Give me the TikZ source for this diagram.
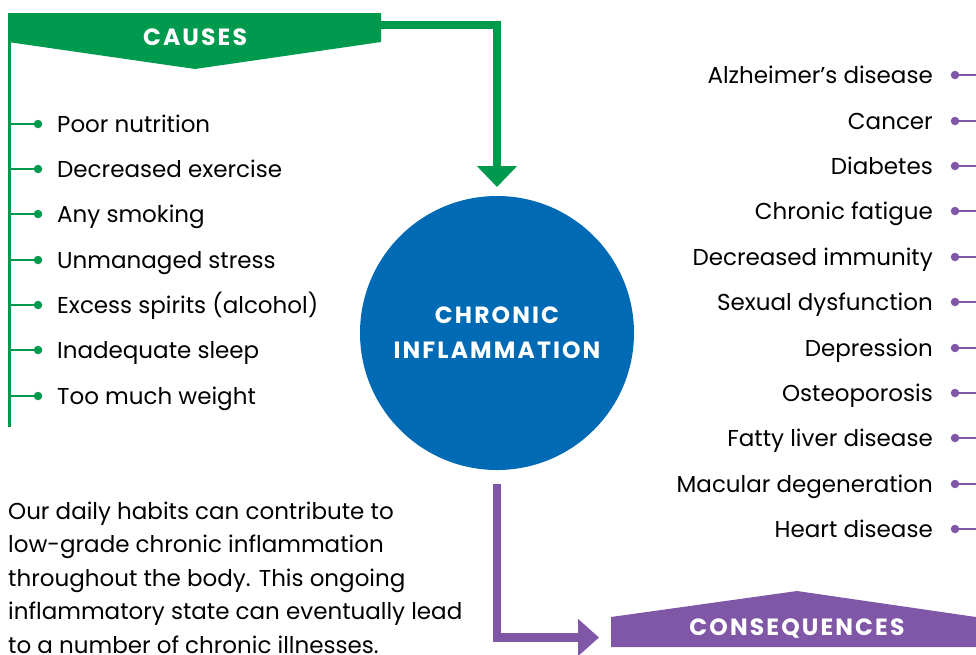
\documentclass[tikz,border=0pt]{standalone}
\usepackage{fontspec}
\setmainfont{Poppins}
\newfontfamily\headfont[LetterSpace=9]{Poppins}
\usetikzlibrary{arrows.meta}
\definecolor{cgreen}{HTML}{009A4E}
\definecolor{cblue}{HTML}{006AB4}
\definecolor{cpurple}{HTML}{7F57A6}
\tikzset{
  x=1pt, y=-1pt,
  body/.style={font=\fontsize{23}{27}\selectfont, text=black, inner sep=0pt},
  head/.style={font=\headfont\fontsize{23.5}{35}\selectfont\bfseries, text=white, inner sep=0pt},
  causeitem/.style={body, anchor=base west},
  conitem/.style={body, anchor=base east},
  gdot/.style={circle, fill=cgreen, inner sep=0pt, minimum size=8.5pt},
  pdot/.style={circle, fill=cpurple, inner sep=0pt, minimum size=8.5pt},
}
\begin{document}
\begin{tikzpicture}
\useasboundingbox (0,0) rectangle (976,654);
% causes banner
\fill[cgreen] (8,13) -- (381,13) -- (381,42) -- (195,69) -- (8,42) -- cycle;
\node[head, anchor=base] (causes) at (195,45) {CAUSES};
\coordinate (cbr) at (381,25);
\coordinate (cbl) at (9.5,40);
\coordinate (cend) at (9.5,427);
% circle
\node[circle, fill=cblue, minimum size=274pt, inner sep=0pt] (circ) at (497,333) {};
\node[head, anchor=base] (circtxt1) at (497,323) {CHRONIC};
\node[head, anchor=base] (circtxt2) at (497,358) {INFLAMMATION};
\coordinate (gtip) at (497,187);
\draw[cgreen, line width=8pt, -{Triangle[width=39pt,length=21pt]}] (cbr) -| (gtip);
% left tree
\draw[cgreen, line width=2.8pt] (cbl) -- (cend);
\foreach \y/\t [count=\i] in {124/Poor nutrition,169/Decreased exercise,214/Any smoking,260/Unmanaged stress,305/Excess spirits (alcohol),350/Inadequate sleep,396/Too much weight}{
  \coordinate (cb\i) at (9.5,\y);
  \node[gdot] (cd\i) at (38,\y) {};
  \draw[cgreen, line width=2.5pt] (cb\i) -- (cd\i);
  \node[causeitem] (ct\i) at (57,\y+8.5) {\t};
}
% consequences
\coordinate (pstart) at (497,484);
\coordinate (ptip) at (599,637.5);
\draw[cpurple, line width=8.5pt, -{Triangle[width=36pt,length=21pt]}] (pstart) |- (ptip);
\fill[cpurple] (611,617) -- (797,591) -- (976,617) -- (976,647) -- (611,647) -- cycle;
\node[head, anchor=base] (cons) at (797,635) {CONSEQUENCES};
\foreach \y/\t [count=\i] in {75/Alzheimer’s disease,121/Cancer,166/Diabetes,211/Chronic fatigue,257/Decreased immunity,302/Sexual dysfunction,348/Depression,393/Osteoporosis,438/Fatty liver disease,484/Macular degeneration,529/Heart disease}{
  \node[pdot] (pd\i) at (955,\y) {};
  \coordinate (pe\i) at (977,\y);
  \draw[cpurple, line width=2.5pt] (pd\i) -- (pe\i);
  \node[conitem] (pt\i) at (933,\y+8.5) {\t};
}
% paragraph (base anchor = baseline of last line)
\node[body, anchor=base west, align=left, font=\fontsize{23}{33.5}\selectfont] (para) at (8,653) {Our daily habits can contribute to\\low-grade chronic inflammation\\throughout the body. This ongoing\\inflammatory state can eventually lead\\to a number of chronic illnesses.};
\end{tikzpicture}
\end{document}
